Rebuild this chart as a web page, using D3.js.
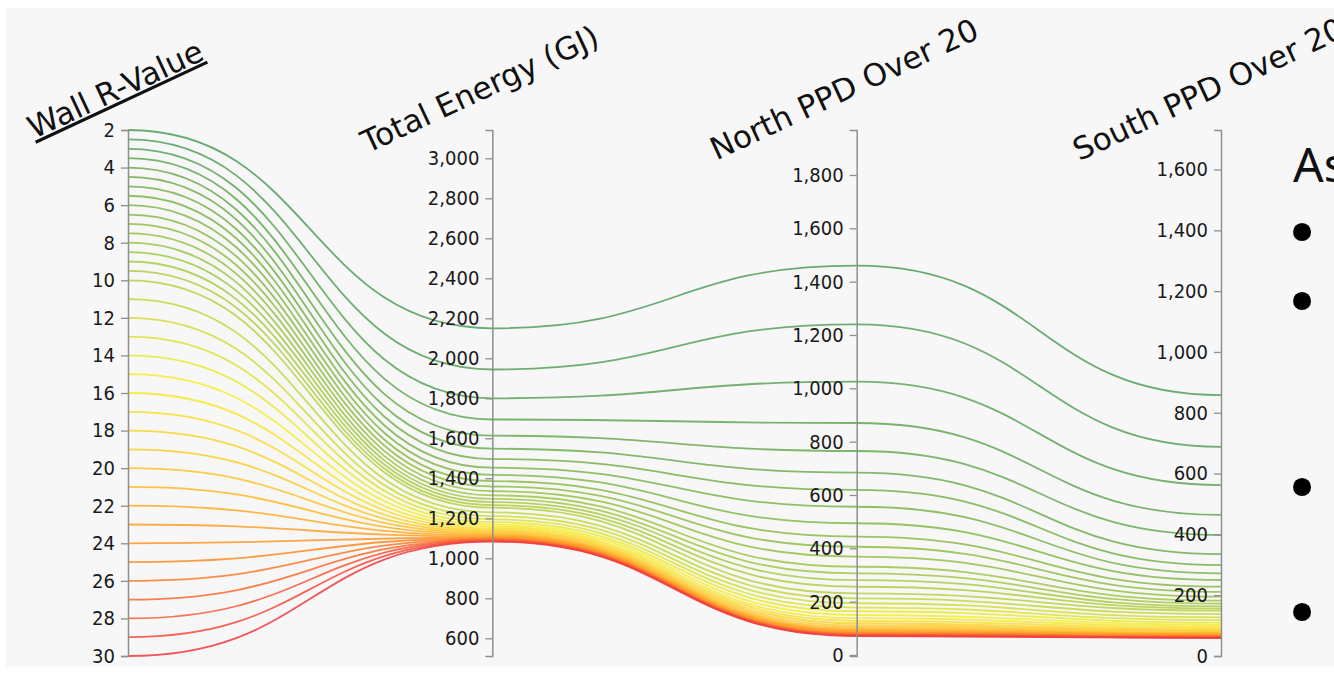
<!DOCTYPE html>
<html><head><meta charset="utf-8">
<script src="https://cdn.jsdelivr.net/npm/d3@7"></script>
<style>html,body{margin:0;padding:0;background:#fff;} svg{display:block;}</style>
</head><body>
<script>
// ---- data ----
const dimensions = ["Wall R-Value", "Total Energy (GJ)", "North PPD Over 20", "South PPD Over 20"];
const wallR = [2, 2.5, 3, 3.5, 4, 4.5, 5, 5.5, 6, 6.5, 7, 7.5, 8, 8.5, 9, 9.5, 10,
  11, 12, 13, 14, 15, 16, 17, 18, 19, 20, 21, 22, 23, 24, 25, 26, 27, 28, 29, 30];
const totalEnergy = [2150, 1944, 1800, 1694, 1613, 1548, 1496, 1453, 1417, 1386, 1359, 1336, 1315, 1297, 1281, 1266, 1253,
  1230, 1211, 1195, 1181, 1169, 1158, 1149, 1140, 1133, 1126, 1120, 1114, 1109, 1104, 1100, 1096, 1092, 1089, 1086, 1083];
const northPPD = [1460, 1240, 1025, 870, 765, 684, 619, 556, 494, 444, 406, 369, 331, 306, 281, 256, 231,
  212, 194, 178, 164, 150, 138, 128, 119, 111, 104, 98, 93, 89, 85, 82, 79, 77, 75, 73, 71];
const southPPD = [858, 688, 562, 464, 398, 335, 299, 272, 250, 228, 211, 195, 182, 172, 163, 156, 149,
  138, 127, 118, 110, 103, 97, 91, 86, 82, 78, 75, 72, 70, 68, 66, 64, 63, 61, 60, 59];

const wallTicks = [2, 4, 6, 8, 10, 12, 14, 16, 18, 20, 22, 24, 26, 28, 30];
const energyTicks = [600, 800, 1000, 1200, 1400, 1600, 1800, 2000, 2200, 2400, 2600, 2800, 3000];
const northTicks = [0, 200, 400, 600, 800, 1000, 1200, 1400, 1600, 1800];
const southTicks = [0, 200, 400, 600, 800, 1000, 1200, 1400, 1600];

const wallDomain = [2, 30];
const energyDomain = [511.5, 3141.5];
const northDomain = [-3.75, 1968.75];
const southDomain = [0, 1730];

const slideHeading = "As";
const slideBullets = ["•", "•", "•", "•"];

// ---- layout ----
const W = 1334, H = 677;
const yTop = 130, yBottom = 656;
const svg = d3.select("body").append("svg").attr("width", W).attr("height", H);
svg.append("rect").attr("x", 6).attr("y", 8).attr("width", W - 6).attr("height", 659).attr("fill", "#f7f7f7");

const x = d3.scalePoint().domain(dimensions).range([128, 1221]);
const y = {};
y[dimensions[0]] = d3.scaleLinear().domain(wallDomain).range([yTop, yBottom]);
y[dimensions[1]] = d3.scaleLinear().domain(energyDomain).range([yBottom, yTop]);
y[dimensions[2]] = d3.scaleLinear().domain(northDomain).range([yBottom, yTop]);
y[dimensions[3]] = d3.scaleLinear().domain(southDomain).range([yBottom, yTop]);
const ticks = {};
ticks[dimensions[0]] = wallTicks;
ticks[dimensions[1]] = energyTicks;
ticks[dimensions[2]] = northTicks;
ticks[dimensions[3]] = southTicks;

const rows = wallR.map((r, i) => {
  const o = {};
  o[dimensions[0]] = r;
  o[dimensions[1]] = totalEnergy[i];
  o[dimensions[2]] = northPPD[i];
  o[dimensions[3]] = southPPD[i];
  return o;
});

const color = d3.scaleLinear()
  .domain([2, 6, 10, 15, 20, 25, 30])
  .range(["#4f9e5c", "#84b84a", "#b7d143", "#f5ef2a", "#ffc22a", "#ff8a26", "#f23a3e"]);

svg.append("g").selectAll("path").data(rows).join("path")
  .attr("fill", "none")
  .attr("stroke", d => color(d[dimensions[0]]))
  .attr("stroke-width", 1.8)
  .attr("stroke-opacity", 0.85)
  .attr("d", d => d3.line().curve(d3.curveBumpX).x(k => x(k)).y(k => y[k](d[k]))(dimensions));

// ---- axes ----
dimensions.forEach((dim, i) => {
  const ax = d3.axisLeft(y[dim]).tickValues(ticks[dim]).tickSize(7).tickSizeOuter(7).tickPadding(6)
    .tickFormat(i === 0 ? d3.format("d") : d3.format(","));
  const g = svg.append("g").attr("transform", `translate(${x(dim)},0)`).call(ax);
  g.attr("font-family", null).attr("font-size", null);
  g.select(".domain").attr("stroke", "#8f8f8f").attr("stroke-width", 1.5);
  g.selectAll(".tick line").attr("stroke", "#8f8f8f").attr("stroke-width", 1.3);
  g.selectAll(".tick text").attr("fill", "#1a1a1a")
    .style("font-family", "'DejaVu Sans Condensed', 'Liberation Sans', sans-serif").style("font-size", "20px");

  svg.append("text")
    .attr("transform", `translate(${x(dim) - 8},99) rotate(-25)`)
    .attr("text-anchor", "middle")
    .style("font-family", "DejaVu Sans")
    .style("font-size", "31px")
    .style("text-decoration", i === 0 ? "underline" : "none")
    .attr("fill", "#111")
    .text(dim);
});

// ---- slide text at right edge ----
svg.append("text").attr("x", 1293).attr("y", 182)
  .style("font-family", "Noto Sans").style("font-size", "48px").attr("fill", "#111").text(slideHeading);
const bulletY = [233, 302, 488, 613];
svg.selectAll(".bullet").data(slideBullets).join("text").attr("class", "bullet")
  .attr("x", 1302).attr("y", (d, i) => bulletY[i])
  .attr("text-anchor", "middle").attr("dominant-baseline", "central")
  .style("font-family", "DejaVu Sans").style("font-size", "62px").attr("fill", "#000").text(d => d);
</script>
</body></html>
